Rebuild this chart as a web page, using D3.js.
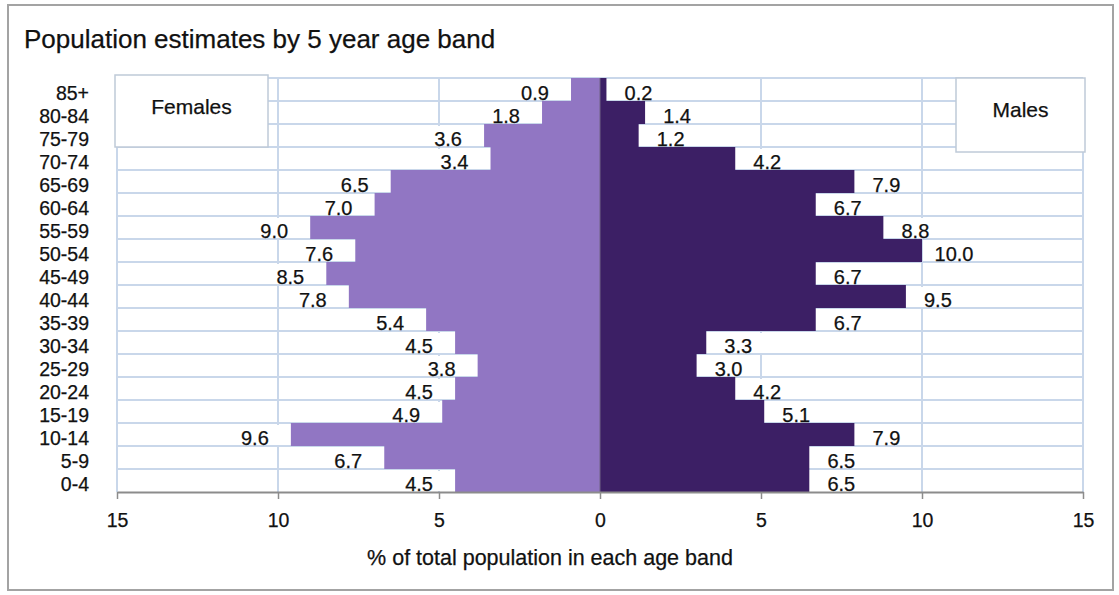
<!DOCTYPE html>
<html>
<head>
<meta charset="utf-8">
<script src="https://cdn.jsdelivr.net/npm/d3@7"></script>
<style>
  body { margin: 0; background: #fff; }
  text { font-family: "Liberation Sans", Arial, sans-serif; fill: #111; stroke: #111; stroke-width: 0.25px; }
</style>
</head>
<body>
<div id="vis_pyramid"></div>
<script>
var ageBands = ["85+", "80-84", "75-79", "70-74", "65-69", "60-64", "55-59", "50-54", "45-49",
                "40-44", "35-39", "30-34", "25-29", "20-24", "15-19", "10-14", "5-9", "0-4"];
var femaleValues = [0.9, 1.8, 3.6, 3.4, 6.5, 7.0, 9.0, 7.6, 8.5, 7.8, 5.4, 4.5, 3.8, 4.5, 4.9, 9.6, 6.7, 4.5];
var maleValues = [0.2, 1.4, 1.2, 4.2, 7.9, 6.7, 8.8, 10.0, 6.7, 9.5, 6.7, 3.3, 3.0, 4.2, 5.1, 7.9, 6.5, 6.5];
var tickValues = [-15, -10, -5, 0, 5, 10, 15];
var chartTitle = "Population estimates by 5 year age band";
var axisTitle = "% of total population in each age band";

var femaleColor = "#9176c3";
var maleColor = "#3c1f65";
var gridColor = "#c9d7ea";

var width = 1119, height = 595;
var plot = { left: 117, right: 1083, top: 78, bottom: 492 };

var svg = d3.select("#vis_pyramid").append("svg")
    .attr("width", width)
    .attr("height", height);

// outer frame
svg.append("rect")
    .attr("x", 8).attr("y", 5)
    .attr("width", 1105).attr("height", 585)
    .style("fill", "#fff")
    .style("stroke", "#a3a3a3")
    .style("stroke-width", 2);

svg.append("text")
    .attr("x", 24).attr("y", 48)
    .style("font-size", "26px")
    .text(chartTitle);

var x = d3.scaleLinear().domain([-15, 15]).range([plot.left, plot.right]);
var y = d3.scaleBand().domain(ageBands).range([plot.top, plot.bottom]).padding(0);

var rows = ageBands.map(function (age, i) {
    return { age: age, f: femaleValues[i], m: maleValues[i] };
});

// gridlines
var hLines = d3.range(ageBands.length).map(function (i) { return y(ageBands[i]); });
svg.append("g").selectAll("line")
    .data(hLines)
    .enter().append("line")
    .attr("x1", plot.left).attr("x2", plot.right)
    .attr("y1", function (d) { return d; })
    .attr("y2", function (d) { return d; })
    .style("stroke", gridColor)
    .style("stroke-width", 2);

svg.append("g").selectAll("line")
    .data(tickValues.filter(function (d) { return d != 0; }))
    .enter().append("line")
    .attr("x1", function (d) { return x(d); })
    .attr("x2", function (d) { return x(d); })
    .attr("y1", plot.top).attr("y2", plot.bottom)
    .style("stroke", gridColor)
    .style("stroke-width", 2);

// bars
var bars = svg.append("g");
bars.selectAll(".female")
    .data(rows)
    .enter().append("rect")
    .attr("class", "female")
    .attr("x", function (d) { return x(-d.f); })
    .attr("y", function (d) { return y(d.age); })
    .attr("width", function (d) { return x(0) - x(-d.f); })
    .attr("height", y.bandwidth())
    .style("fill", femaleColor);

bars.selectAll(".male")
    .data(rows)
    .enter().append("rect")
    .attr("class", "male")
    .attr("x", x(0))
    .attr("y", function (d) { return y(d.age); })
    .attr("width", function (d) { return x(d.m) - x(0); })
    .attr("height", y.bandwidth())
    .style("fill", maleColor);

svg.append("line")
    .attr("x1", x(0)).attr("x2", x(0))
    .attr("y1", plot.top).attr("y2", plot.bottom)
    .style("stroke", "#6e6284")
    .style("stroke-width", 1);

// value labels with white boxes
var labels = svg.append("g");
labels.selectAll(".fbox")
    .data(rows)
    .enter().append("rect")
    .attr("x", function (d) { return x(-d.f) - 62; })
    .attr("y", function (d) { return y(d.age) + 2; })
    .attr("width", 60)
    .attr("height", y.bandwidth() - 3)
    .style("fill", "#fff");

labels.selectAll(".flabel")
    .data(rows)
    .enter().append("text")
    .attr("x", function (d) { return x(-d.f) - 36; })
    .attr("y", function (d) { return y(d.age) + y.bandwidth() - 1; })
    .attr("text-anchor", "middle")
    .style("font-size", "20px")
    .text(function (d) { return d.f.toFixed(1); });

labels.selectAll(".mbox")
    .data(rows)
    .enter().append("rect")
    .attr("x", function (d) { return x(d.m) + 1; })
    .attr("y", function (d) { return y(d.age) + 2; })
    .attr("width", 56)
    .attr("height", y.bandwidth() - 3)
    .style("fill", "#fff");

labels.selectAll(".mlabel")
    .data(rows)
    .enter().append("text")
    .attr("x", function (d) { return x(d.m) + 32; })
    .attr("y", function (d) { return y(d.age) + y.bandwidth() - 1; })
    .attr("text-anchor", "middle")
    .style("font-size", "20px")
    .text(function (d) { return d.m.toFixed(1); });

// age labels
svg.append("g").selectAll("text")
    .data(ageBands)
    .enter().append("text")
    .attr("x", 89)
    .attr("y", function (d) { return y(d) + y.bandwidth() - 1; })
    .attr("text-anchor", "end")
    .style("font-size", "19.5px")
    .text(function (d) { return d; });

// bottom axis
var axis = svg.append("g")
    .attr("transform", "translate(0," + plot.bottom + ")")
    .call(d3.axisBottom(x)
        .tickValues(tickValues)
        .tickSize(7)
        .tickSizeOuter(0)
        .tickPadding(14)
        .tickFormat(function (d) { return Math.abs(d); }));
axis.select(".domain").style("stroke", "#8c8c8c").style("stroke-width", 2);
axis.selectAll(".tick line").style("stroke", "#8c8c8c").style("stroke-width", 1.5);
axis.selectAll(".tick text")
    .style("font-size", "19.5px")
    .style("font-family", "'Liberation Sans', Arial, sans-serif")
    .style("fill", "#111");

svg.append("text")
    .attr("x", 550).attr("y", 565)
    .attr("text-anchor", "middle")
    .style("font-size", "21.5px")
    .text(axisTitle);

// legend boxes
var legendItems = [
    { name: "Females", x0: 115, y0: 75, w: 153, h: 72 },
    { name: "Males", x0: 956, y0: 78, w: 129, h: 74 }
];
var legend = svg.append("g").selectAll("g")
    .data(legendItems)
    .enter().append("g");
legend.append("rect")
    .attr("x", function (d) { return d.x0; })
    .attr("y", function (d) { return d.y0; })
    .attr("width", function (d) { return d.w; })
    .attr("height", function (d) { return d.h; })
    .style("fill", "#fff")
    .style("stroke", "#bfcad8")
    .style("stroke-width", 1.5);
legend.append("text")
    .attr("x", function (d) { return d.x0 + d.w / 2; })
    .attr("y", function (d) { return d.y0 + 39; })
    .attr("text-anchor", "middle")
    .style("font-size", "21px")
    .text(function (d) { return d.name; });
</script>
</body>
</html>
